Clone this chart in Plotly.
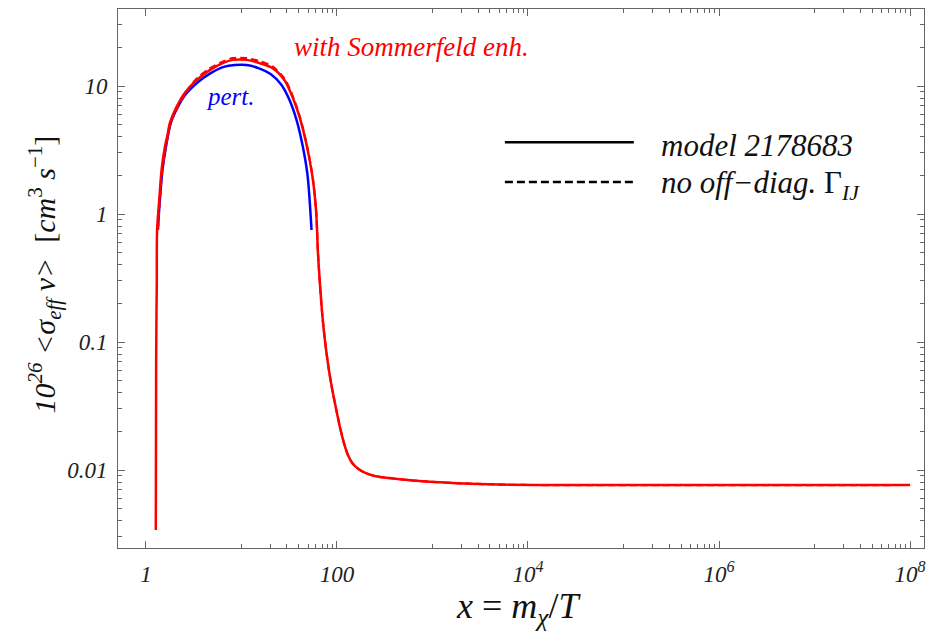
import plotly.graph_objects as go

# Effective annihilation cross section vs x = m/T (log-log)
# Full result with Sommerfeld enhancement (model 2178683)
x_som = [1.27, 1.28, 1.29, 1.30, 1.31, 1.38, 1.46, 1.58, 1.70, 1.78, 2.09, 2.55, 3.39,
         4.66, 6.37, 8.11, 11.3, 15.5, 21.2, 28.3, 34.3, 40.6, 47.7, 55.5, 60.7,
         63.3, 66.5, 70.6, 75.5, 81.5, 88.7, 97.2, 107.5, 118.3, 130.3, 145.2, 167.7,
         198.6, 247, 353, 728, 1813, 4980, 12130, 1.0e8]
y_som = [0.0034, 0.0638, 0.16, 0.289, 0.75, 1.29, 2.21, 3.34, 4.30, 5.14, 6.86, 8.81, 11.1,
         13.3, 15.1, 16.0, 16.0, 15.1, 13.8, 11.1, 8.2, 5.73, 3.59, 1.95, 1.02,
         0.496, 0.279, 0.157, 0.098, 0.0638, 0.0437, 0.031, 0.0217, 0.0163, 0.0131,
         0.0113, 0.0102, 0.0095, 0.00898, 0.00866, 0.0082, 0.0079, 0.0077, 0.00764,
         0.00764]

# Sommerfeld-enhanced result without off-diagonal Gamma_IJ
x_som_nod = [1.335, 1.40, 1.49, 1.62, 1.82, 2.16, 2.62, 3.39, 4.66, 6.37, 8.11, 11.3,
             15.5, 21.2, 28.3, 34.3, 40.6, 47.7, 55.5, 60.7, 63.3, 66.5, 70.6, 75.5,
             81.5, 88.7, 97.2, 107.5, 118.3, 130.3, 145.2, 167.7, 198.6, 247, 353, 728,
             1813, 4980, 12130, 1.0e8]
y_som_nod = [0.75, 1.29, 2.21, 3.34, 5.14, 6.86, 8.9, 11.4, 13.7, 15.5, 16.5, 16.5,
             15.6, 14.2, 11.4, 8.4, 5.85, 3.65, 1.98, 1.02, 0.496, 0.279, 0.157, 0.098,
             0.0638, 0.0437, 0.031, 0.0217, 0.0163, 0.0131, 0.0113, 0.0102, 0.0095,
             0.00898, 0.00866, 0.0082, 0.0079, 0.0077, 0.00764, 0.00764]

# Perturbative result
x_pert = [1.335, 1.40, 1.49, 1.62, 1.82, 2.16, 2.62, 3.49, 4.77, 6.53, 8.50, 11.3,
          15.1, 20.2, 26.3, 31.9, 37.8, 43.6, 49.2, 54.2]
y_pert = [0.75, 1.29, 2.21, 3.34, 5.14, 6.86, 8.66, 10.7, 12.6, 14.1, 14.6, 14.6,
          13.8, 12.4, 10.2, 7.78, 5.42, 3.46, 2.02, 0.75]

# Axis ticks
x_major = [1, 100, 1e4, 1e6, 1e8]
x_major_text = ["<i>1</i>", "<i>100</i>", "<i>10<sup>4</sup></i>",
                "<i>10<sup>6</sup></i>", "<i>10<sup>8</sup></i>"]
x_minor = [m * 10 ** e for e in (1, 3, 5, 7) for m in range(1, 10)]
y_major = [10, 1, 0.1, 0.01]
y_major_text = ["<i>10</i>", "<i>1</i>", "<i>0.1</i>", "<i>0.01</i>"]
y_minor = [m * 10.0 ** e for e in (-3, -2, -1, 0, 1) for m in range(2, 10)]

RED = "#ff0000"
BLUE = "#0000ff"
SERIF = "Liberation Serif"
AXIS = "#666666"

fig = go.Figure()
fig.add_trace(go.Scatter(x=x_pert, y=y_pert, mode="lines",
                         line=dict(color=BLUE, width=2.5, shape="spline", smoothing=0.8),
                         showlegend=False))
fig.add_trace(go.Scatter(x=x_som, y=y_som, mode="lines",
                         line=dict(color=RED, width=2.5, shape="spline", smoothing=0.8),
                         showlegend=False))
fig.add_trace(go.Scatter(x=x_som_nod, y=y_som_nod, mode="lines",
                         line=dict(color=RED, width=2.2, dash="7px,4px",
                                   shape="spline", smoothing=0.8),
                         showlegend=False))

axis_common = dict(
    type="log", showgrid=False, zeroline=False, showline=True,
    linecolor=AXIS, linewidth=1, mirror="allticks",
    ticks="inside", ticklen=7, tickwidth=1, tickcolor=AXIS,
    tickfont=dict(family=SERIF, size=23, color="#222222"),
    ticklabelstandoff=5,
)

fig.update_xaxes(
    **axis_common, range=[-0.292, 8.146],
    tickmode="array", tickvals=x_major, ticktext=x_major_text,
    minor=dict(tickmode="array", tickvals=x_minor, ticks="inside",
               ticklen=4, tickwidth=1, tickcolor=AXIS, showgrid=False),
)
fig.update_yaxes(
    **axis_common, range=[-2.609, 1.6016],
    tickmode="array", tickvals=y_major, ticktext=y_major_text,
    minor=dict(tickmode="array", tickvals=y_minor, ticks="inside",
               ticklen=4, tickwidth=1, tickcolor=AXIS, showgrid=False),
)

annotations = [
    # axis titles
    dict(text="<i>x</i> = <i>m<sub>χ</sub></i>/<i>T</i>", x=0.497, y=-0.112,
         xref="paper", yref="paper", xanchor="center", yanchor="middle",
         showarrow=False, font=dict(family=SERIF, size=36, color="#111111")),
    dict(text="<i>10<sup>26</sup> &lt;σ<sub>eff</sub> v&gt;</i>  [<i>cm</i><sup>3</sup> <i>s</i><sup>−1</sup>]",
         x=-0.091, y=0.507, xref="paper", yref="paper", textangle=-90,
         xanchor="center", yanchor="middle", showarrow=False,
         font=dict(family=SERIF, size=30, color="#111111")),
    # curve labels
    dict(text="<i>with Sommerfeld enh.</i>", x=0.364, y=0.9295, xref="paper", yref="paper",
         xanchor="center", yanchor="middle", showarrow=False,
         font=dict(family=SERIF, size=27, color=RED)),
    dict(text="<i>pert.</i>", x=0.14, y=0.837, xref="paper", yref="paper",
         xanchor="center", yanchor="middle", showarrow=False,
         font=dict(family=SERIF, size=25, color=BLUE)),
    # legend entries
    dict(text="<i>model 2178683</i>", x=0.671, y=0.747, xref="paper", yref="paper",
         xanchor="left", yanchor="middle", showarrow=False,
         font=dict(family=SERIF, size=31, color="#111111")),
    dict(text="<i>no off−diag.</i> Γ<sub><i>IJ</i></sub>", x=0.671, y=0.674,
         xref="paper", yref="paper", xanchor="left", yanchor="middle", showarrow=False,
         font=dict(family=SERIF, size=31, color="#111111")),
]

shapes = [
    dict(type="line", xref="paper", yref="paper", x0=0.480, x1=0.640, y0=0.753, y1=0.753,
         line=dict(color="black", width=2.5)),
    dict(type="line", xref="paper", yref="paper", x0=0.480, x1=0.640, y0=0.679, y1=0.679,
         line=dict(color="black", width=2.5, dash="8px,4px")),
]

fig.update_layout(
    width=928, height=636,
    margin=dict(l=118, r=2, t=9, b=88),
    paper_bgcolor="white", plot_bgcolor="white",
    annotations=annotations, shapes=shapes, showlegend=False,
)

fig.write_html("out.html")
